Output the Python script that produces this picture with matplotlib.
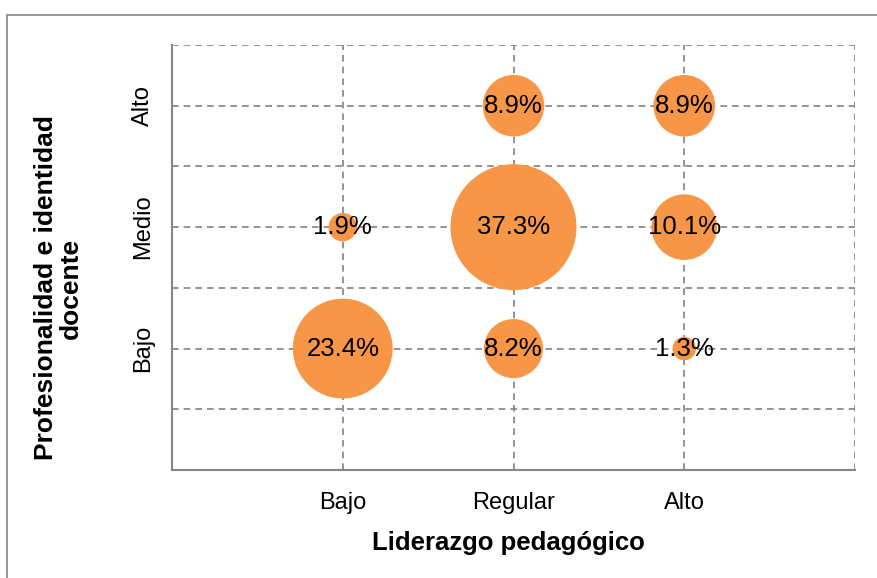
import matplotlib
matplotlib.use("Agg")
import matplotlib.pyplot as plt
from matplotlib.patches import Rectangle

plt.rcParams['font.family'] = ['Liberation Sans', 'DejaVu Sans']

x_categories = ["Bajo", "Regular", "Alto"]
y_categories = ["Bajo", "Medio", "Alto"]
# (x index, y index, percent)
x_idx = [1, 2, 3, 1, 2, 3, 1, 2, 3]
y_idx = [1, 1, 1, 2, 2, 2, 3, 3, 3]
values = [23.4, 8.2, 1.3, 1.9, 37.3, 10.1, None, 8.9, 8.9]

W, H, DPI = 878, 578, 100
fig = plt.figure(figsize=(W / DPI, H / DPI), dpi=DPI)
fig.patch.set_facecolor("white")

# outer chart frame
fig.add_artist(Rectangle((7 / W, -0.05), 1.1, 1 - 15 / H + 0.05,
                         transform=fig.transFigure, fill=False,
                         edgecolor="#868686", linewidth=1.2))

ax = fig.add_axes([172 / W, 1 - 470 / H, (855 - 172) / W, (470 - 45) / H])
ax.set_xlim(0, 4)
ax.set_ylim(0, 3.5)

grid_kw = dict(color="#828282", linestyle=(0, (4, 3)), linewidth=1.2, zorder=1)
for yv in [0.5, 1, 1.5, 2, 2.5, 3, 3.5]:
    ax.axhline(yv, **grid_kw)
for xv in [1, 2, 3, 4]:
    ax.axvline(xv, **grid_kw)

# bubble sizes proportional to area
px_per_pt = DPI / 72.0
scale = (2 * 63 / px_per_pt) ** 2 / 37.3
xs, ys, ss, vs = [], [], [], []
for xi, yi, v in zip(x_idx, y_idx, values):
    if v is None:
        continue
    xs.append(xi); ys.append(yi); ss.append(v * scale); vs.append(v)
ax.scatter(xs, ys, s=ss, color="#F79646", edgecolors="none", zorder=3, clip_on=False)
for xi, yi, v in zip(xs, ys, vs):
    ax.text(xi, yi, f"{v:.1f}%", ha="center", va="center", fontsize=18.5,
            color="black", zorder=4)

for side in ["top", "right"]:
    ax.spines[side].set_visible(False)
for side in ["left", "bottom"]:
    ax.spines[side].set_color("#868686")
    ax.spines[side].set_linewidth(1.5)
    ax.spines[side].set_zorder(2)

ax.set_xticks([1, 2, 3])
ax.set_xticklabels(x_categories, fontsize=17)
ax.set_yticks([1, 2, 3])
ax.set_yticklabels(y_categories, fontsize=17, rotation=90, va="center")
ax.tick_params(axis="x", length=0, pad=16)
ax.tick_params(axis="y", length=0, pad=13)

fig.text(508 / W, 1 - 543 / H, "Liderazgo pedagógico", fontsize=18.5,
         fontweight="bold", ha="center", va="center")
fig.text(58 / W, 1 - 288 / H, "Profesionalidad e identidad\ndocente", fontsize=19,
         fontweight="bold", ha="center", va="center", rotation=90,
         multialignment="center", linespacing=1.05)

fig.savefig("out.png", dpi=DPI)
